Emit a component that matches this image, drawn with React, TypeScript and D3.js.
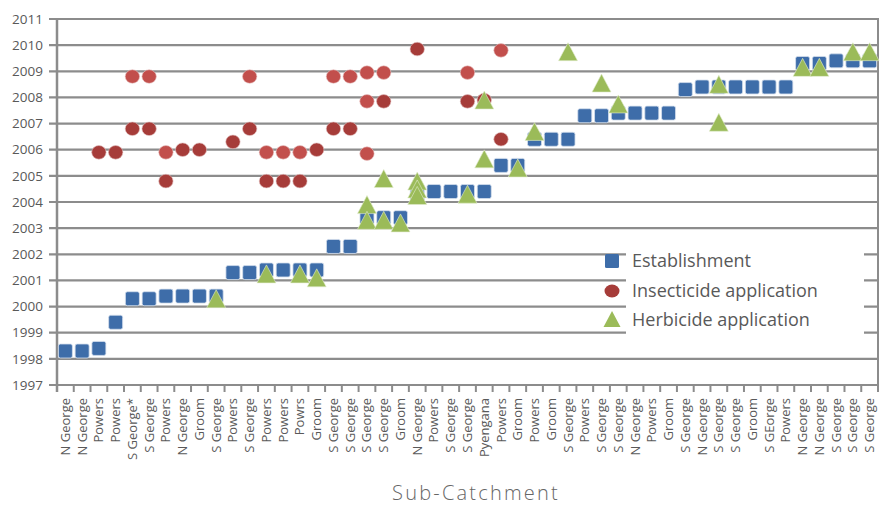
import React from "react";
import * as d3 from "d3";

const categories = [
  "N George", "N George", "Powers", "Powers", "S George*", "S George", "Powers", "N George", "Groom", "S George",
  "Powers", "S George", "Powers", "Powers", "Powrs", "Groom", "S George", "S George", "S George", "S George",
  "Groom", "N George", "Powers", "S George", "S George", "Pyengana", "Powers", "Groom", "Powers", "Groom",
  "S George", "Powers", "S George", "S George", "N George", "Powers", "Groom", "S George", "N George", "S George",
  "S George", "Groom", "S GEorge", "Powers", "N George", "N George", "S George", "S George", "S George",
];

// establishment year per category (in category order)
const establishment = [
  1998.3, 1998.3, 1998.4, 1999.4, 2000.3, 2000.3, 2000.4, 2000.4, 2000.4, 2000.4,
  2001.3, 2001.3, 2001.4, 2001.4, 2001.4, 2001.4, 2002.3, 2002.3, 2003.4, 2003.4,
  2003.4, 2004.3, 2004.4, 2004.4, 2004.4, 2004.4, 2005.4, 2005.4, 2006.4, 2006.4,
  2006.4, 2007.3, 2007.3, 2007.4, 2007.4, 2007.4, 2007.4, 2008.3, 2008.4, 2008.4,
  2008.4, 2008.4, 2008.4, 2008.4, 2009.3, 2009.3, 2009.4, 2009.4, 2009.4,
];

// [category number (1-based), year]
const insecticideLight: [number, number][] = [
  [5, 2008.8], [6, 2008.8], [7, 2005.9], [12, 2008.8], [13, 2005.9], [14, 2005.9], [15, 2005.9],
  [17, 2008.8], [18, 2008.8], [19, 2008.95], [19, 2007.85], [19, 2005.85], [20, 2008.95],
  [25, 2008.95], [27, 2009.8],
];
const insecticideDark: [number, number][] = [
  [3, 2005.9], [4, 2005.9], [5, 2006.8], [6, 2006.8], [7, 2004.8], [8, 2006.0], [9, 2006.0],
  [11, 2006.3], [12, 2006.8], [13, 2004.8], [14, 2004.8], [15, 2004.8], [16, 2006.0],
  [17, 2006.8], [18, 2006.8], [20, 2007.85], [22, 2009.85], [25, 2007.85], [26, 2007.9], [27, 2006.4],
];
const herbicide: [number, number][] = [
  [10, 2000.3], [13, 2001.25], [15, 2001.25], [16, 2001.1], [19, 2003.9], [19, 2003.3],
  [20, 2004.9], [20, 2003.3], [21, 2003.2], [22, 2004.8], [22, 2004.5], [22, 2004.25],
  [25, 2004.3], [26, 2007.9], [26, 2005.65], [28, 2005.3], [29, 2006.7], [31, 2009.75],
  [33, 2008.55], [34, 2007.75], [40, 2008.5], [40, 2007.05], [45, 2009.15], [46, 2009.15],
  [48, 2009.75], [49, 2009.75],
];

const yearTicks = d3.range(1997, 2012);
const legendItems = ["Establishment", "Insecticide application", "Herbicide application"];
const axisTitle = "Sub-Catchment";

const W = 880;
const H = 506;
const left = 57;
const right = 878;
const top = 19;
const bottom = 385;

const BLUE = "#3e6da9";
const RED_L = "#c24f4c";
const RED_D = "#a63c39";
const GREEN = "#9bbb59";
const GRID = "#8c8c8c";
const TEXT = "#595959";
const FONT = "'Open Sans', sans-serif";

const triPath = (cx: number, cy: number, w = 19, h = 18) => {
  const p = d3.path();
  p.moveTo(cx, cy - h / 2);
  p.lineTo(cx + w / 2, cy + h / 2);
  p.lineTo(cx - w / 2, cy + h / 2);
  p.closePath();
  return p.toString();
};

export default function App() {
  const x = d3.scaleBand<number>().domain(d3.range(categories.length)).range([left, right]).padding(0);
  const y = d3.scaleLinear().domain([1997, 2011]).range([bottom, top]);
  const cx = (i: number) => (x(i) as number) + x.bandwidth() / 2;

  const legX = 612;
  const legY = [261, 291, 320];

  return (
    <div style={{ position: "absolute", left: 0, top: 0 }}>
      <svg width={W} height={H} style={{ display: "block", background: "#fff" }}>
        {/* gridlines */}
        {yearTicks.map((t) => (
          <line key={t} x1={left - 8} x2={right} y1={y(t)} y2={y(t)} stroke={GRID} strokeWidth={2.2} />
        ))}
        {/* y axis and right border */}
        <line x1={left} x2={left} y1={top - 1} y2={bottom + 7} stroke={GRID} strokeWidth={2.5} />
        <line x1={right} x2={right} y1={top - 1} y2={bottom + 1} stroke={GRID} strokeWidth={2} />
        {/* x ticks */}
        {d3.range(categories.length + 1).map((i) => {
          const xx = left + i * x.bandwidth();
          return <line key={i} x1={xx} x2={xx} y1={bottom} y2={bottom + 7} stroke={GRID} strokeWidth={2} />;
        })}
        {/* y labels */}
        {yearTicks.map((t) => (
          <text key={t} x={43} y={y(t)} dy="0.35em" textAnchor="end" fontSize={13.5} fill={TEXT} fontFamily={FONT}>
            {t}
          </text>
        ))}
        {/* x labels */}
        {categories.map((c, i) => (
          <text
            key={i}
            transform={`translate(${cx(i) + 4.5},${bottom + 13}) rotate(-90)`}
            textAnchor="end"
            fontSize={13}
            fill={TEXT}
            fontFamily={FONT}
          >
            {c}
          </text>
        ))}
        {/* legend background */}
        <rect x={626} y={241} width={238} height={103} fill="#fff" />

        {/* establishment squares */}
        {establishment.map((v, i) => (
          <rect
            key={i}
            x={cx(i) - 7}
            y={y(v) - 7}
            width={14}
            height={14}
            rx={2}
            fill={BLUE}
            stroke="#d6e0ee"
            strokeWidth={0.8}
          />
        ))}
        {/* insecticide */}
        {insecticideLight.map(([c, v], i) => (
          <ellipse key={"l" + i} cx={cx(c - 1)} cy={y(v)} rx={7.2} ry={6.8} fill={RED_L} stroke="#e8c5c4" strokeWidth={0.6} />
        ))}
        {insecticideDark.map(([c, v], i) => (
          <ellipse key={"d" + i} cx={cx(c - 1)} cy={y(v)} rx={7.2} ry={6.8} fill={RED_D} stroke="#e0bebd" strokeWidth={0.6} />
        ))}
        {/* herbicide */}
        {herbicide.map(([c, v], i) => (
          <path key={i} d={triPath(cx(c - 1), y(v))} fill={GREEN} stroke="#e3ecd0" strokeWidth={0.6} />
        ))}

        {/* legend */}
        <rect x={legX - 7} y={legY[0] - 7} width={14} height={14} rx={1.5} fill={BLUE} />
        <ellipse cx={legX} cy={legY[1]} rx={7.5} ry={6.5} fill={RED_D} />
        <path d={triPath(legX, legY[2] - 1, 17, 16)} fill={GREEN} />
        {legendItems.map((t, i) => (
          <text key={t} x={632} y={legY[i]} dy="0.35em" fontSize={18} fill={TEXT} fontFamily={FONT}>
            {t}
          </text>
        ))}

        {/* axis title */}
        <text
          x={476}
          y={500}
          textAnchor="middle"
          fontSize={20}
          letterSpacing={2.2}
          fill="#666"
          fontFamily={FONT}
          fontWeight={300}
        >
          {axisTitle}
        </text>
      </svg>
    </div>
  );
}
